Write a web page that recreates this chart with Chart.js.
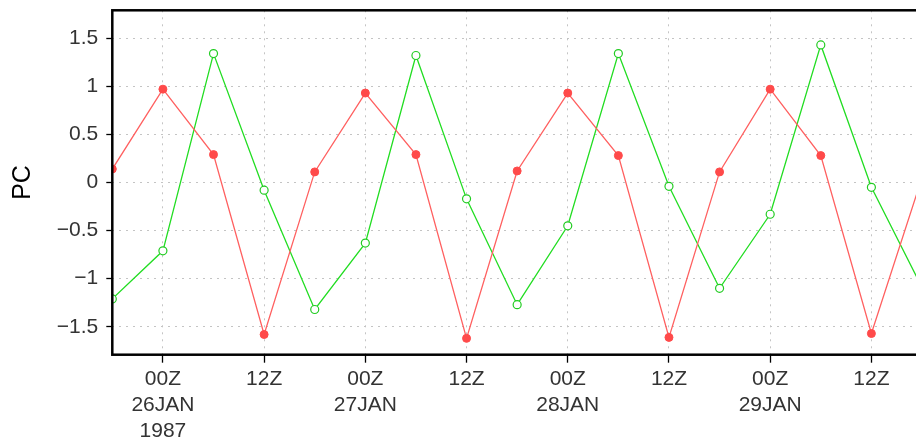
<!DOCTYPE html>
<html>
<head>
<meta charset="utf-8">
<script src="https://cdn.jsdelivr.net/npm/chart.js@4/dist/chart.umd.min.js"></script>
<style>
  html, body { margin: 0; padding: 0; background: #fff; overflow: hidden; }
  #wrap { width: 916px; height: 437px; overflow: hidden; }
</style>
</head>
<body>
<div id="wrap"><canvas id="pc" width="924" height="437"></canvas></div>
<script>
// hours after 00Z 26JAN1987, 6-hourly
const hours = [-6, 0, 6, 12, 18, 24, 30, 36, 42, 48, 54, 60, 66, 72, 78, 84, 90];
const pcRed = [0.14, 0.97, 0.29, -1.58, 0.11, 0.93, 0.29, -1.62, 0.12, 0.93, 0.28, -1.61, 0.11, 0.97, 0.28, -1.57, 0.05];
const pcGreen = [-1.21, -0.71, 1.34, -0.08, -1.32, -0.63, 1.32, -0.17, -1.27, -0.45, 1.34, -0.04, -1.10, -0.33, 1.43, -0.05, -1.09];

const xTickHours = [0, 12, 24, 36, 48, 60, 72, 84];
const xTickLabels = [
  ["00Z", "26JAN", "1987"], "12Z", ["00Z", "27JAN"], "12Z",
  ["00Z", "28JAN"], "12Z", ["00Z", "29JAN"], "12Z"
];
const yTickValues = [-1.5, -1, -0.5, 0, 0.5, 1, 1.5];

const FONT = "'Liberation Sans', Arial, sans-serif";

const pts = (ys) => hours.map((h, i) => ({ x: h, y: ys[i] }));

// no extra room for the end labels, the plot box is fixed
const noPad = (s) => {
  s.paddingTop = 0; s.paddingBottom = 0;
  s.paddingLeft = 0; s.paddingRight = 0;
};

// black frame round the plot area
const frame = {
  id: "frame",
  afterDraw(chart) {
    const { ctx, chartArea: a } = chart;
    ctx.save();
    ctx.strokeStyle = "#000";
    ctx.lineWidth = 2.5;
    ctx.strokeRect(a.left, a.top, a.right - a.left, a.bottom - a.top);
    ctx.restore();
  }
};

new Chart(document.getElementById("pc"), {
  type: "line",
  data: {
    datasets: [
      {
        data: pts(pcRed),
        borderColor: "#ff6060",
        borderWidth: 1.3,
        backgroundColor: "#ff4a4a",
        pointBorderColor: "#ff4a4a",
        pointRadius: 4,
        pointBorderWidth: 1,
        tension: 0,
      },
      {
        data: pts(pcGreen),
        borderColor: "#22dd22",
        borderWidth: 1.3,
        backgroundColor: "#fff",
        pointBorderColor: "#22cc22",
        pointBackgroundColor: "#fff",
        pointRadius: 4,
        pointBorderWidth: 1.2,
        tension: 0,
      },
    ],
  },
  options: {
    responsive: false,
    animation: false,
    events: [],
    layout: { autoPadding: false, padding: { top: 10.3, right: 2, left: 0, bottom: 0 } },
    plugins: { legend: { display: false }, tooltip: { enabled: false } },
    scales: {
      x: {
        type: "linear",
        min: -6,
        max: 90,
        afterFit: (s) => { s.height = 82.3; noPad(s); },
        afterBuildTicks: (s) => { s.ticks = xTickHours.map(v => ({ value: v })); },
        ticks: {
          autoSkip: false,
          maxRotation: 0,
          padding: 4,
          color: "#333",
          font: { family: FONT, size: 21, lineHeight: 1.22 },
          callback: (v) => xTickLabels[xTickHours.indexOf(v)],
        },
        grid: {
          color: "#c4c4c4",
          lineWidth: 1,
          tickColor: "#000",
          tickLength: 8,
          tickWidth: 1.3,
        },
        border: { display: false, dash: [2, 5] },
      },
      y: {
        min: -1.79,
        max: 1.79,
        afterFit: (s) => { s.width = 112.3; noPad(s); },
        afterBuildTicks: (s) => { s.ticks = yTickValues.map(v => ({ value: v })); },
        ticks: {
          padding: 8,
          color: "#333",
          font: { family: FONT, size: 21 },
          callback: (v) => String(v).replace("-", "\u2212"),
        },
        grid: {
          color: "#c4c4c4",
          lineWidth: 1,
          tickColor: "#000",
          tickLength: 6,
          tickWidth: 1.3,
        },
        border: { display: false, dash: [2, 5] },
        title: {
          display: true,
          text: "PC",
          color: "#000",
          font: { family: FONT, size: 25 },
          padding: { top: 8, bottom: 0 },
        },
      },
    },
  },
  plugins: [frame],
});
</script>
</body>
</html>
